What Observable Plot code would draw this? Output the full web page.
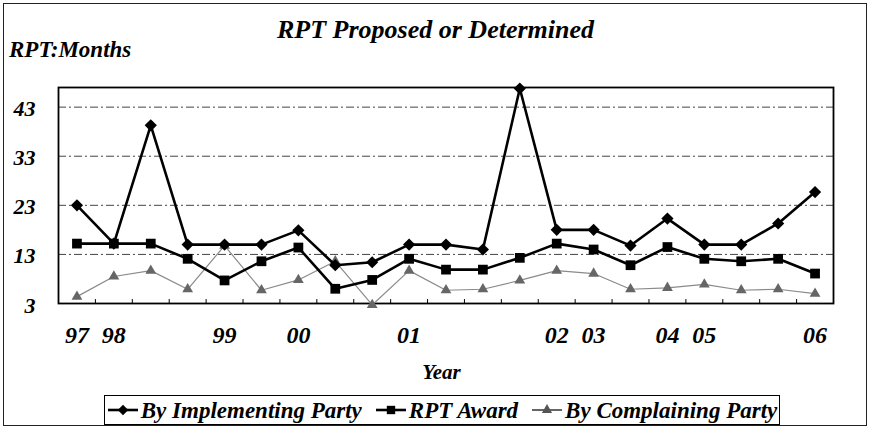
<!DOCTYPE html>
<html><head><meta charset="utf-8">
<script src="https://cdn.jsdelivr.net/npm/d3@7"></script>
<script src="https://cdn.jsdelivr.net/npm/@observablehq/plot@0.6"></script>
<style>
body{margin:0;background:#fff;}
#wrap{position:relative;width:871px;height:430px;font-family:"Liberation Serif","Times New Roman",serif;font-weight:bold;font-style:italic;color:#000;}
#border{position:absolute;left:3px;top:3px;width:864px;height:423px;border:1.5px solid #222;box-sizing:border-box;}
.t{position:absolute;white-space:nowrap;line-height:1;}
#legend{position:absolute;left:104px;top:395px;width:676px;height:30px;border:1.5px solid #000;box-sizing:border-box;overflow:hidden;display:flex;align-items:center;justify-content:center;}
#lgin{display:flex;align-items:center;white-space:nowrap;font-size:23px;line-height:1;gap:13px;}
#lgin span{display:inline-flex;align-items:center;gap:2px;}
</style></head>
<body>
<div id="wrap">
<div id="chart"></div>
<div id="border"></div>
<div class="t" style="left:0;width:871px;text-align:center;top:17px;font-size:26px;padding-left:0">RPT Proposed or Determined</div>
<div class="t" style="left:9px;top:38px;font-size:23px">RPT:Months</div>
<div class="t" style="left:0;width:871px;text-align:center;top:362px;font-size:21px;padding-left:6px">Year</div>
<div id="legend"><div id="lgin"></div></div>
</div>
<script>
const xLabels = ["97","98","","","99","","00","","","01","","","","02","03","","04","05","","","06"];
const implementing = [23,15.2,39.3,15,15,15,17.9,10.8,11.4,15,15,14,46.8,18,18,14.8,20.3,15,15,19.3,25.7];
const award = [15.2,15.2,15.2,12.1,7.7,11.6,14.4,6,7.8,12.1,9.9,9.9,12.3,15.2,14,10.8,14.5,12.1,11.6,12.1,9.1];
const complaining = [4.4,8.5,9.7,5.9,14.8,5.7,7.8,11.6,2.7,9.7,5.7,5.9,7.7,9.7,9.1,5.9,6.2,6.9,5.7,5.9,5];
const yTicks = [3,13,23,33,43];
const seriesNames = ["By Implementing Party","RPT Award","By Complaining Party"];

const idx = xLabels.map((d,i)=>i);
const mk = (vals)=>vals.map((v,i)=>({i,v}));
const boundaries = idx.slice(0,-1).map(i=>i+0.5);
const labelIdx = idx.filter(i=>xLabels[i]!=="");

const chart = Plot.plot({
  width:871, height:430,
  marginLeft:58, marginRight:38, marginTop:87, marginBottom:127,
  style:{fontFamily:"Liberation Serif, serif",fontWeight:"bold",fontStyle:"italic",fontSize:"18px",background:"transparent",color:"#000"},
  x:{type:"linear",domain:[-0.5,idx.length-0.5],axis:null},
  y:{domain:[3,47],axis:null},
  marks:[
    Plot.ruleY(yTicks.slice(1),{stroke:"#444",strokeWidth:1,strokeDasharray:"8,3,2,3"}),
    Plot.ruleX(boundaries,{y1:3,y2:3.8,stroke:"#000",strokeWidth:1}),
    Plot.frame({stroke:"#000",strokeWidth:1.8}),
    Plot.line(mk(complaining),{x:"i",y:"v",stroke:"#8a8a8a",strokeWidth:1.2}),
    Plot.dot(mk(complaining),{x:"i",y:"v",symbol:"triangle",fill:"#666",r:4}),
    Plot.line(mk(award),{x:"i",y:"v",stroke:"#000",strokeWidth:2.6}),
    Plot.dot(mk(award),{x:"i",y:"v",symbol:"square",fill:"#000",r:5.5}),
    Plot.line(mk(implementing),{x:"i",y:"v",stroke:"#000",strokeWidth:2.6}),
    Plot.dot(mk(implementing),{x:"i",y:"v",symbol:"diamond2",fill:"#000",r:5.5}),
    Plot.text(yTicks,{x:-0.5,y:d=>d,text:d=>String(d),dx:-23,dy:2,textAnchor:"end",fontSize:22}),
    Plot.text(labelIdx,{x:d=>d,y:3,text:d=>xLabels[d],dy:32,fontSize:24,textAnchor:"middle"})
  ]
});
document.getElementById("chart").appendChild(chart);

const sw = (sym,color,w)=>{
  const s = d3.create("svg").attr("width",32).attr("height",14);
  s.append("line").attr("x1",1).attr("x2",31).attr("y1",7).attr("y2",7).attr("stroke",color).attr("stroke-width",w);
  s.append("path").attr("transform","translate(16,7)").attr("fill",color).attr("d",d3.symbol(sym,sym===d3.symbolTriangle?45:70)());
  return s.node();
};
const lg = document.getElementById("lgin");
const syms=[[d3.symbolDiamond2,"#000",2.6],[d3.symbolSquare,"#000",2.6],[d3.symbolTriangle,"#555",1.8]];
seriesNames.forEach((n,k)=>{
  const sp=document.createElement("span");
  sp.appendChild(sw(...syms[k]));
  sp.appendChild(document.createTextNode(n));
  lg.appendChild(sp);
});
</script>
</body></html>
